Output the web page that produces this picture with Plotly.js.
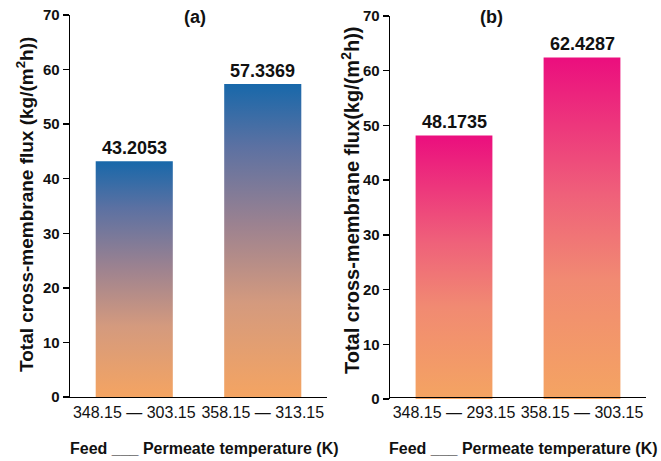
<!DOCTYPE html>
<html>
<head>
<meta charset="utf-8">
<script src="https://cdn.plot.ly/plotly-3.0.1.min.js"></script>
<style>
  html, body { margin: 0; padding: 0; background: #ffffff; }
  #chart { width: 661px; height: 461px; }
</style>
</head>
<body>
<div id="chart"></div>
<script>
// Temperature pairs (feed — permeate, K) and total flux values
const categoriesA = ['348.15 — 303.15', '358.15 — 313.15'];
const fluxA = [43.2053, 57.3369];
const categoriesB = ['348.15 — 293.15', '358.15 — 303.15'];
const fluxB = [48.1735, 62.4287];
const yTickVals = [0, 10, 20, 30, 40, 50, 60, 70];
const panelTitles = ['(a)', '(b)'];
const yTitles = [
  'Total cross-membrane flux (kg/(m<sup>2</sup>h))',
  'Total cross-membrane flux(kg/(m<sup>2</sup>h))'
];
const xTitle = 'Feed ___ Permeate temperature (K)';

const W = 661, H = 461;
const FONT = 'Liberation Sans, Arial, sans-serif';
const INK = '#111111';

// vertical gradients, bottom -> top
const scaleA = [[0, '#f4a462'], [0.3, '#d49a7e'], [0.55, '#9c8290'], [0.8, '#5c71a2'], [1, '#1868aa']];
const scaleB = [[0, '#f4a462'], [0.35, '#f18a72'], [0.6, '#ef607a'], [1, '#eb0e7e']];

const HALF = 0.3; // half bar width in category units

function barTraces(values, xa, ya, scale) {
  return values.map((v, i) => ({
    type: 'scatter',
    mode: 'lines',
    x: [i - HALF, i - HALF, i + HALF, i + HALF, i - HALF],
    y: [0, v, v, 0, 0],
    fill: 'toself',
    fillgradient: { type: 'vertical', colorscale: scale, start: 0, stop: v },
    line: { width: 0 },
    xaxis: xa, yaxis: ya,
    hoverinfo: 'skip',
    showlegend: false
  }));
}

function valueLabels(values, xr, yr) {
  return values.map((v, i) => ({
    xref: xr, yref: yr, x: i, y: v,
    text: v.toFixed(4),
    showarrow: false, xanchor: 'center', yanchor: 'bottom', yshift: 1,
    font: { family: FONT, size: 18, weight: 'bold', color: INK }
  }));
}

const px = v => v / W;
const py = v => 1 - v / H;

function xAxis(domain, labels) {
  return {
    domain: domain, range: [-0.5, 1.5],
    tickmode: 'array', tickvals: labels.map((_, i) => i), ticktext: labels,
    ticks: '', showline: true, linecolor: '#000', linewidth: 1.3,
    showgrid: false, zeroline: false, fixedrange: true,
    tickfont: { family: FONT, size: 16, color: INK }
  };
}
function yAxis(domain, anchor) {
  return {
    domain: domain, range: [0, 70], anchor: anchor,
    tickmode: 'array', tickvals: yTickVals,
    ticks: 'outside', ticklen: 6, tickwidth: 1.3, tickcolor: '#000',
    showline: true, linecolor: '#000', linewidth: 1.3,
    showgrid: false, zeroline: false, fixedrange: true,
    tickfont: { family: FONT, size: 15, weight: 'bold', color: INK }
  };
}

const data = [
  ...barTraces(fluxA, 'x', 'y', scaleA),
  ...barTraces(fluxB, 'x2', 'y2', scaleB)
];

const textAnn = (t, x, y, size, extra) => Object.assign({
  xref: 'paper', yref: 'paper', x: x, y: y, text: t, showarrow: false,
  xanchor: 'center', yanchor: 'middle',
  font: { family: FONT, size: size, weight: 'bold', color: INK }
}, extra || {});

const layout = {
  width: W, height: H,
  margin: { l: 0, r: 0, t: 0, b: 0 },
  paper_bgcolor: '#ffffff', plot_bgcolor: '#ffffff',
  showlegend: false,
  xaxis: xAxis([px(70), px(327)], categoriesA),
  yaxis: yAxis([py(397), py(15)], 'x'),
  xaxis2: xAxis([px(390), px(646)], categoriesB),
  yaxis2: yAxis([py(399), py(16)], 'x2'),
  annotations: [
    textAnn(panelTitles[0], px(195), py(17), 18),
    textAnn(panelTitles[1], px(491), py(17), 18),
    textAnn(yTitles[0], px(25), py(205), 19, { textangle: -90 }),
    textAnn(yTitles[1], px(350), py(200), 20, { textangle: -90 }),
    textAnn(xTitle, px(204), py(448), 16),
    textAnn(xTitle, px(523), py(448), 16),
    ...valueLabels(fluxA, 'x', 'y'),
    ...valueLabels(fluxB, 'x2', 'y2')
  ]
};

Plotly.newPlot('chart', data, layout, { displayModeBar: false, staticPlot: true });
</script>
</body>
</html>
